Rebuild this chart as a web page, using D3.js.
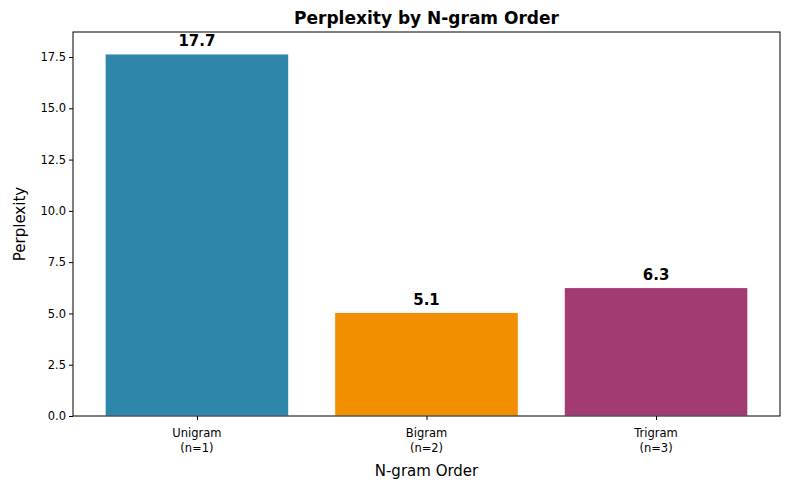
<!DOCTYPE html>
<html><head><meta charset="utf-8">
<script src="https://cdn.jsdelivr.net/npm/d3@7"></script>
<style>body{margin:0;background:#fff}text{font-family:"DejaVu Sans",sans-serif}</style>
</head><body><svg id="c" width="790" height="490"></svg>
<script>
const categories = ["Unigram\n(n=1)", "Bigram\n(n=2)", "Trigram\n(n=3)"];
const values = [17.65, 5.05, 6.26];
const labels = ["17.7", "5.1", "6.3"];
const colors = ["#2E86AB", "#F18F01", "#A23B72"];
const yTicks = [0, 2.5, 5, 7.5, 10, 12.5, 15, 17.5];

const svg = d3.select("#c");
const L = 73, R = 780, T = 32, B = 416;
const x = d3.scaleLinear().domain([-0.54, 2.54]).range([L, R]);
const y = d3.scaleLinear().domain([0, 18.72]).range([B, T]);
const bw = x(0.8) - x(0);

svg.selectAll("rect.bar").data(values).enter().append("rect")
  .attr("x", (d, i) => x(i) - bw / 2).attr("width", bw)
  .attr("y", d => y(d)).attr("height", d => B - y(d))
  .attr("fill", (d, i) => colors[i]).attr("stroke", "#fff").attr("stroke-width", 1);

svg.selectAll("text.val").data(values).enter().append("text")
  .attr("x", (d, i) => x(i)).attr("y", d => y(d) - 13)
  .attr("text-anchor", "middle").attr("font-size", 15).attr("font-weight", "bold")
  .attr("dominant-baseline", "alphabetic").attr("dy", "0.35em")
  .text((d, i) => labels[i]);

const ya = svg.append("g").attr("transform", `translate(${L},0)`)
  .call(d3.axisLeft(y).tickValues(yTicks).tickFormat(d3.format(".1f")).tickSize(4).tickSizeOuter(0));
ya.select(".domain").remove();
ya.selectAll("text").attr("font-size", 11.5).attr("fill", "#000").attr("font-family", "DejaVu Sans");

const xa = svg.append("g").attr("transform", `translate(0,${B})`)
  .call(d3.axisBottom(x).tickValues([0, 1, 2]).tickSize(4).tickFormat(""));
xa.select(".domain").remove();
categories.forEach((c, i) => {
  c.split("\n").forEach((line, j) => {
    svg.append("text").attr("x", x(i)).attr("y", B + 21 + j * 15)
      .attr("text-anchor", "middle").attr("font-size", 11.5).text(line);
  });
});

svg.append("rect").attr("x", L).attr("y", T).attr("width", R - L).attr("height", B - T)
  .attr("fill", "none").attr("stroke", "#000").attr("stroke-width", 1);

svg.append("text").attr("x", (L + R) / 2).attr("y", 24).attr("text-anchor", "middle")
  .attr("font-size", 17).attr("font-weight", "bold").text("Perplexity by N-gram Order");
svg.append("text").attr("x", (L + R) / 2).attr("y", 476).attr("text-anchor", "middle")
  .attr("font-size", 15).text("N-gram Order");
svg.append("text").attr("transform", `translate(25,${(T + B) / 2}) rotate(-90)`)
  .attr("text-anchor", "middle").attr("font-size", 15).text("Perplexity");
</script></body></html>
